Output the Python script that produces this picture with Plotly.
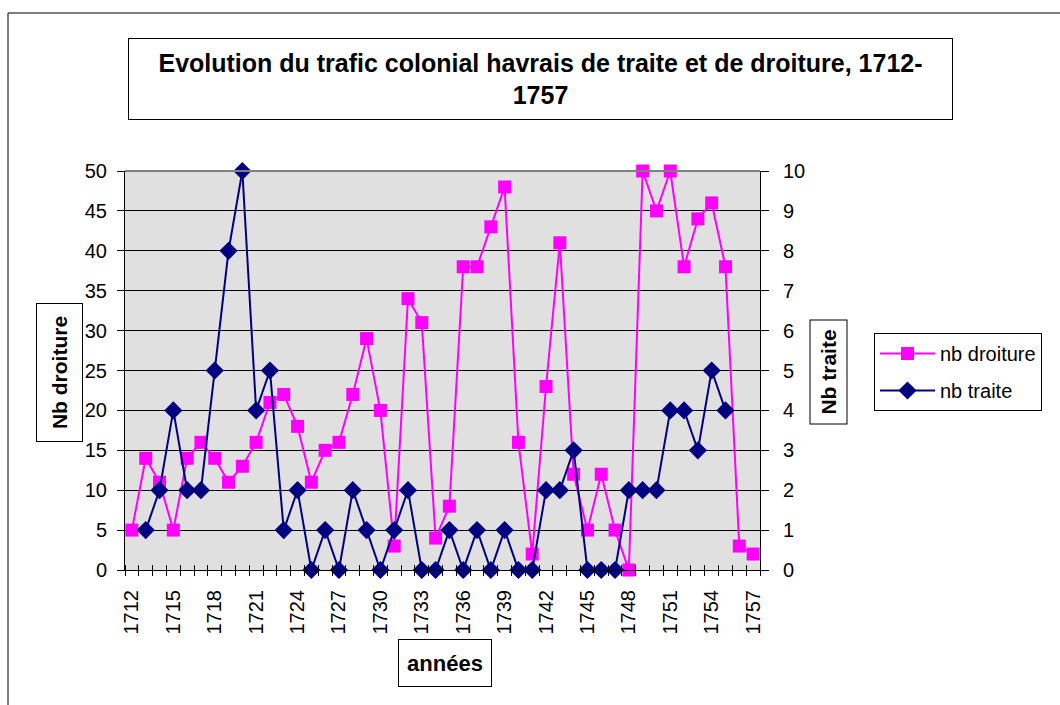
import plotly.graph_objects as go

years = list(range(1712, 1758))
nb_droiture = [5, 14, 11, 5, 14, 16, 14, 11, 13, 16, 21, 22, 18, 11, 15, 16, 22, 29, 20, 3,
               34, 31, 4, 8, 38, 38, 43, 48, 16, 2, 23, 41, 12, 5, 12, 5, 0, 50, 45, 50,
               38, 44, 46, 38, 3, 2]
nb_traite = [None, 1, 2, 4, 2, 2, 5, 8, 10, 4, 5, 1, 2, 0, 1, 0, 2, 1, 0, 1,
             2, 0, 0, 1, 0, 1, 0, 1, 0, 0, 2, 2, 3, 0, 0, 0, 2, 2, 2, 4,
             4, 3, 5, 4, None, None]
label_years = list(range(1712, 1758, 3))

W, H = 1060, 705
L, R, T, B = 125, 760, 171, 570
pw, ph = R - L, B - T

def px(x):
    return (x - L) / pw

def py(y):
    return (B - y) / ph

FONT = "Liberation Sans, Arial, sans-serif"

fig = go.Figure()
fig.add_trace(go.Scatter(
    x=years, y=nb_droiture, name="nb droiture", mode="lines+markers",
    legendgroup="d",
    line=dict(color="#FF00FF", width=2),
    marker=dict(symbol="square", size=13, color="#FF00FF"),
    yaxis="y", cliponaxis=False))
fig.add_trace(go.Scatter(
    x=years, y=nb_traite, name="nb traite", mode="lines+markers",
    legendgroup="t",
    line=dict(color="#000080", width=2),
    marker=dict(symbol="diamond", size=14, color="#000080"),
    yaxis="y2", cliponaxis=False))

xr = [years[0] - 0.5, years[-1] + 0.5]
bounds = [y - 0.5 for y in years] + [years[-1] + 0.5]

fig.update_layout(
    width=W, height=H,
    margin=dict(l=L, r=W - R, t=T, b=H - B, pad=0),
    paper_bgcolor="white", plot_bgcolor="#E0E0E0",
    font=dict(family=FONT, size=20, color="black"),
    showlegend=True,
    legend=dict(x=px(874), y=py(333), xanchor="left", yanchor="top",
                bordercolor="black", borderwidth=1, bgcolor="white",
                font=dict(size=20, family=FONT), tracegroupgap=8,
                itemwidth=55),
    xaxis=dict(range=xr, tickmode="array", tickvals=label_years,
               ticktext=[str(y) for y in label_years], tickangle=-90,
               ticks="outside", ticklen=5, tickcolor="rgba(0,0,0,0)",
               ticklabelstandoff=6,
               showgrid=False, zeroline=False, showline=True,
               linecolor="black", linewidth=1,
               tickfont=dict(size=20, family=FONT),
               minor=dict(tickmode="array", tickvals=bounds, ticks="outside",
                          ticklen=5, tickcolor="black", tickwidth=1, showgrid=False)),
    xaxis3=dict(range=xr, overlaying="x", anchor="y", side="bottom",
                tickmode="array", tickvals=[], showticklabels=False,
                showgrid=False, zeroline=False, showline=False,
                minor=dict(tickmode="array", tickvals=bounds, ticks="inside",
                           ticklen=5, tickcolor="black", tickwidth=1, showgrid=False)),
    yaxis=dict(range=[0, 50], dtick=5, tick0=0, ticks="outside", ticklen=7,
               tickcolor="black", showgrid=True, gridcolor="black", gridwidth=1,
               ticklabelstandoff=6,
               zeroline=False, showline=True, linecolor="black", linewidth=1,
               tickfont=dict(size=20, family=FONT)),
    yaxis2=dict(range=[0, 10], dtick=1, tick0=0, overlaying="y", side="right",
                ticks="outside", ticklen=8, tickcolor="black", showgrid=False,
                ticklabelstandoff=10,
                zeroline=False, showline=True, linecolor="black", linewidth=1,
                tickfont=dict(size=20, family=FONT)),
)

# invisible trace to activate xaxis3
fig.add_trace(go.Scatter(x=[None], y=[None], xaxis="x3", yaxis="y", showlegend=False,
                         hoverinfo="skip"))

# plot area top border (grey) and outer chart frame
fig.add_shape(type="line", xref="paper", yref="paper", x0=0, x1=1, y0=1, y1=1,
              line=dict(color="#808080", width=2), layer="above")
fig.add_shape(type="rect", xref="paper", yref="paper",
              x0=px(8), x1=px(1075), y0=py(720), y1=py(13),
              line=dict(color="black", width=1), fillcolor="rgba(0,0,0,0)", layer="below")

# title box
fig.add_annotation(xref="paper", yref="paper", x=px(540.5), y=py(79),
                   xanchor="center", yanchor="middle", showarrow=False,
                   text="<b>Evolution du trafic colonial havrais de traite et de droiture, 1712-<br>1757</b>",
                   font=dict(size=25, family=FONT, color="black"),
                   width=819, height=76, bordercolor="black", borderwidth=1,
                   borderpad=2, bgcolor="white", align="center")
# y axis title boxes
fig.add_annotation(xref="paper", yref="paper", x=px(59.5), y=py(372.5),
                   xanchor="center", yanchor="middle", showarrow=False,
                   text="<b>Nb droiture</b>", textangle=-90,
                   font=dict(size=21, family=FONT, color="black"),
                   width=133, height=41, bordercolor="black", borderwidth=1,
                   borderpad=2, bgcolor="white")
fig.add_annotation(xref="paper", yref="paper", x=px(828), y=py(372.5),
                   xanchor="center", yanchor="middle", showarrow=False,
                   text="<b>Nb traite</b>", textangle=-90,
                   font=dict(size=21, family=FONT, color="black"),
                   width=99, height=32, bordercolor="black", borderwidth=1,
                   borderpad=2, bgcolor="white")
fig.add_annotation(xref="paper", yref="paper", x=px(445), y=py(663),
                   xanchor="center", yanchor="middle", showarrow=False,
                   text="<b>années</b>",
                   font=dict(size=22, family=FONT, color="black"),
                   width=88, height=42, bordercolor="black", borderwidth=1,
                   borderpad=2, bgcolor="white")

fig.write_html("out.html", config={"displayModeBar": False},
               post_script="document.body.style.margin='0';")
